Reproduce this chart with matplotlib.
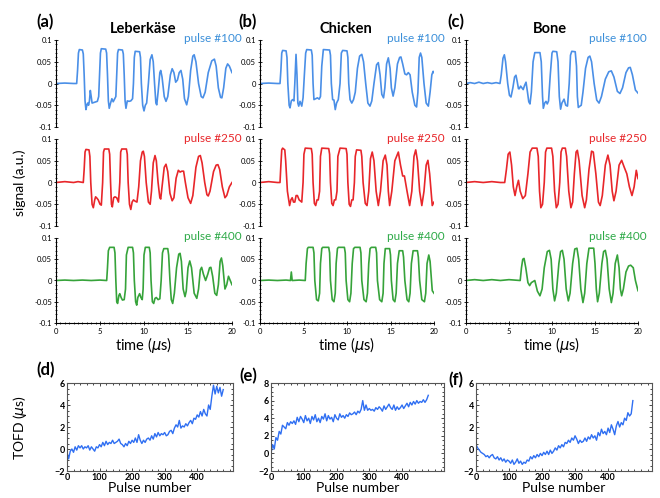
import matplotlib
matplotlib.use("Agg")
import matplotlib.pyplot as plt
from matplotlib.ticker import MultipleLocator

plt.rcParams['font.family'] = ['Lato', 'DejaVu Sans']

# ---------------- data ----------------
materials = ["Leberkäse", "Chicken", "Bone"]
pulse_labels = ["pulse #100", "pulse #250", "pulse #400"]
panel_top = ["(a)", "(b)", "(c)"]
panel_bot = ["(d)", "(e)", "(f)"]

# (time in us, signal in a.u.)
leb100 = [(0,0),(1.0,0.001),(2.0,0),(2.35,0),(2.45,0.03),(2.55,0.07),(2.65,0.078),(3.0,0.077),(3.1,0.068),(3.2,0.02),(3.3,-0.04),(3.4,-0.06),(3.5,-0.05),(3.6,-0.045),(3.7,-0.05),(3.8,-0.04),(3.9,-0.016),(4.0,-0.03),(4.1,-0.045),(4.4,-0.043),(4.7,-0.041),(4.85,-0.03),(4.95,0.02),(5.05,0.07),(5.15,0.08),(5.65,0.079),(5.75,0.07),(5.85,0.02),(5.95,-0.04),(6.05,-0.057),(6.2,-0.045),(6.35,-0.035),(6.5,-0.042),(6.65,-0.036),(6.8,-0.03),(6.9,0.02),(7.0,0.07),(7.1,0.078),(7.55,0.077),(7.65,0.068),(7.75,0.02),(7.85,-0.04),(7.95,-0.057),(8.1,-0.04),(8.3,-0.041),(8.5,-0.04),(8.7,-0.035),(8.8,0.0),(8.9,0.06),(9.0,0.074),(9.5,0.073),(9.6,0.06),(9.7,0.0),(9.85,-0.05),(10.0,-0.063),(10.15,-0.05),(10.3,-0.045),(10.5,0.0),(10.7,0.055),(10.9,0.066),(11.05,0.05),(11.2,0.0),(11.35,-0.045),(11.45,-0.049),(11.6,-0.02),(11.8,0.025),(11.9,0.03),(12.05,0.015),(12.3,-0.03),(12.5,-0.041),(12.7,-0.03),(13.0,0.02),(13.2,0.034),(13.4,0.025),(13.6,0.003),(13.8,0.008),(14.0,0.025),(14.2,0.03),(14.4,0.01),(14.6,-0.035),(14.85,-0.049),(15.05,-0.03),(15.3,0.03),(15.55,0.063),(15.7,0.066),(15.9,0.05),(16.2,0.0),(16.5,-0.03),(16.7,-0.033),(16.95,-0.02),(17.3,0.025),(17.7,0.052),(18.0,0.056),(18.2,0.04),(18.45,-0.01),(18.7,-0.032),(18.85,-0.033),(19.05,-0.01),(19.3,0.035),(19.5,0.045),(19.7,0.04),(20.0,0.025)]

leb250 = [(0,0),(1,0.002),(2,0),(2.5,0.002),(3.1,0),(3.2,0.03),(3.3,0.07),(3.4,0.076),(3.75,0.075),(3.85,0.06),(3.95,0.0),(4.1,-0.05),(4.24,-0.058),(4.4,-0.04),(4.5,-0.033),(4.65,-0.036),(4.8,-0.04),(5.0,-0.05),(5.15,-0.052),(5.3,0.0),(5.4,0.07),(5.5,0.077),(6.0,0.077),(6.1,0.065),(6.2,0.0),(6.3,-0.05),(6.4,-0.056),(6.55,-0.035),(6.7,-0.033),(6.9,-0.035),(7.1,-0.045),(7.25,0.0),(7.35,0.07),(7.47,0.077),(8.0,0.077),(8.1,0.065),(8.2,0.0),(8.35,-0.05),(8.5,-0.062),(8.65,-0.045),(8.8,-0.04),(9.0,-0.043),(9.2,-0.045),(9.4,-0.01),(9.6,0.05),(9.8,0.07),(9.92,0.072),(10.05,0.06),(10.25,0.0),(10.5,-0.045),(10.7,-0.05),(10.85,-0.02),(11.05,0.045),(11.25,0.062),(11.4,0.05),(11.6,0.0),(11.8,-0.035),(11.9,-0.038),(12.05,-0.01),(12.3,0.035),(12.5,0.042),(12.7,0.025),(12.95,-0.025),(13.2,-0.042),(13.4,-0.035),(13.65,0.01),(13.9,0.028),(14.1,0.024),(14.3,0.026),(14.5,0.026),(14.7,0.0),(15.0,-0.035),(15.3,-0.048),(15.55,-0.03),(15.9,0.035),(16.2,0.06),(16.4,0.062),(16.6,0.045),(16.9,0.0),(17.15,-0.028),(17.3,-0.031),(17.5,-0.02),(17.9,0.025),(18.2,0.04),(18.4,0.041),(18.6,0.03),(18.9,-0.01),(19.2,-0.035),(19.4,-0.03),(19.7,-0.01),(20.0,0.0)]

leb400 = [(0,0),(1,0.001),(2,0),(3,0.001),(4,0),(5,0.001),(5.76,0),(5.85,0.03),(5.95,0.07),(6.1,0.078),(6.6,0.078),(6.7,0.065),(6.8,0.0),(6.9,-0.05),(7.0,-0.054),(7.15,-0.035),(7.25,-0.031),(7.4,-0.04),(7.55,-0.046),(7.75,-0.045),(7.9,-0.02),(8.0,0.06),(8.2,0.078),(8.7,0.078),(8.8,0.065),(8.9,0.0),(9.05,-0.05),(9.17,-0.058),(9.3,-0.04),(9.5,-0.031),(9.65,-0.04),(9.8,-0.045),(9.9,-0.02),(10.0,0.06),(10.15,0.078),(10.6,0.078),(10.7,0.065),(10.8,0.0),(10.95,-0.05),(11.1,-0.054),(11.25,-0.042),(11.4,-0.04),(11.6,-0.045),(11.8,-0.043),(11.95,0.0),(12.1,0.065),(12.25,0.075),(12.7,0.075),(12.8,0.06),(12.95,0.0),(13.1,-0.045),(13.26,-0.054),(13.45,-0.03),(13.7,0.03),(13.95,0.062),(14.1,0.064),(14.25,0.045),(14.45,-0.02),(14.66,-0.038),(14.8,-0.025),(15.0,0.03),(15.2,0.046),(15.4,0.03),(15.7,-0.03),(16.0,-0.042),(16.2,-0.02),(16.4,0.025),(16.55,0.031),(16.75,0.015),(17.0,0.0),(17.25,0.015),(17.45,0.03),(17.6,0.031),(17.8,0.01),(18.05,-0.03),(18.26,-0.035),(18.45,-0.01),(18.65,0.045),(18.8,0.053),(18.95,0.035),(19.2,-0.02),(19.4,-0.01),(19.6,0.01),(19.8,0.0),(20.0,-0.01)]

chk100 = [(0,0),(1,0.001),(2,0),(2.3,0),(2.4,0.03),(2.5,0.07),(2.6,0.076),(3.0,0.075),(3.1,0.06),(3.2,0.0),(3.35,-0.05),(3.45,-0.056),(3.6,-0.04),(3.75,-0.037),(3.9,-0.04),(4.0,0.0),(4.14,0.067),(4.25,0.02),(4.35,-0.045),(4.45,-0.052),(4.6,-0.041),(4.8,-0.052),(4.95,-0.033),(5.1,0.02),(5.25,0.07),(5.37,0.078),(5.9,0.077),(6.0,0.065),(6.1,0.0),(6.2,-0.037),(6.4,-0.035),(6.6,-0.033),(6.8,-0.036),(6.95,-0.03),(7.1,0.04),(7.28,0.078),(8.0,0.077),(8.1,0.065),(8.2,0.0),(8.35,-0.037),(8.5,-0.038),(8.65,-0.06),(8.8,-0.045),(9.0,-0.037),(9.2,0.0),(9.35,0.07),(9.5,0.076),(10.0,0.075),(10.1,0.06),(10.2,0.0),(10.35,-0.037),(10.55,-0.045),(10.75,-0.037),(10.95,-0.02),(11.2,0.035),(11.45,0.063),(11.7,0.067),(11.9,0.05),(12.15,0.0),(12.4,-0.045),(12.64,-0.052),(12.85,-0.04),(13.1,0.0),(13.4,0.043),(13.6,0.048),(13.8,0.02),(14.0,-0.025),(14.2,-0.033),(14.35,-0.01),(14.55,0.045),(14.75,0.059),(14.95,0.035),(15.1,-0.01),(15.3,-0.029),(15.5,-0.01),(15.8,0.045),(16.05,0.06),(16.2,0.061),(16.4,0.045),(16.65,0.022),(16.85,0.02),(17.05,0.025),(17.25,0.02),(17.5,-0.02),(17.8,-0.05),(18.0,-0.054),(18.15,-0.02),(18.3,0.06),(18.45,0.07),(18.6,0.06),(18.85,0.0),(19.1,-0.045),(19.35,-0.052),(19.55,-0.02),(19.75,0.02),(19.9,0.028),(20.0,0.025)]

chk250 = [(0,0),(1,0.002),(2,0),(2.3,0),(2.4,0.04),(2.5,0.075),(2.6,0.079),(2.85,0.075),(2.95,0.05),(3.15,-0.02),(3.4,-0.053),(3.55,-0.04),(3.7,-0.035),(3.85,-0.045),(4.0,-0.045),(4.15,-0.03),(4.3,-0.03),(4.5,-0.04),(4.8,-0.045),(4.95,0.0),(5.05,0.065),(5.2,0.079),(5.9,0.078),(6.0,0.065),(6.1,0.0),(6.25,-0.048),(6.4,-0.053),(6.55,-0.04),(6.7,-0.04),(6.85,-0.02),(6.95,0.06),(7.1,0.079),(7.9,0.078),(8.0,0.065),(8.1,0.0),(8.25,-0.048),(8.4,-0.053),(8.55,-0.04),(8.7,-0.04),(8.85,-0.02),(8.95,0.06),(9.2,0.079),(9.9,0.078),(10.0,0.065),(10.1,0.0),(10.25,-0.05),(10.4,-0.055),(10.55,-0.04),(10.7,-0.04),(10.85,0.0),(10.95,0.06),(11.1,0.075),(11.6,0.074),(11.7,0.06),(11.85,0.0),(12.1,-0.048),(12.3,-0.053),(12.5,-0.02),(12.7,0.055),(12.9,0.07),(13.1,0.05),(13.35,-0.02),(13.6,-0.053),(13.85,-0.02),(14.15,0.05),(14.4,0.063),(14.6,0.04),(14.75,-0.02),(14.9,-0.053),(15.15,-0.02),(15.5,0.05),(15.9,0.07),(16.15,0.04),(16.4,0.015),(16.6,0.015),(16.9,-0.02),(17.2,-0.053),(17.45,-0.02),(17.7,0.06),(17.9,0.075),(18.1,0.05),(18.35,-0.02),(18.6,-0.053),(18.85,-0.02),(19.1,0.04),(19.3,0.051),(19.5,0.02),(19.8,-0.053),(20.0,-0.045)]

chk400 = [(0,0),(1,0.001),(2,0),(3,0.001),(3.5,0),(3.6,0.02),(3.7,0),(4.5,0.001),(5.2,0),(5.3,0.04),(5.45,0.075),(5.55,0.078),(6.1,0.078),(6.2,0.065),(6.3,0.0),(6.5,-0.045),(6.7,-0.048),(6.85,-0.03),(6.95,0.04),(7.1,0.075),(7.2,0.078),(7.9,0.078),(8.0,0.065),(8.1,0.0),(8.3,-0.045),(8.5,-0.05),(8.65,-0.03),(8.75,0.04),(8.9,0.075),(9.0,0.078),(9.7,0.078),(9.8,0.065),(9.9,0.0),(10.1,-0.045),(10.3,-0.05),(10.45,-0.03),(10.6,0.04),(10.75,0.075),(10.9,0.078),(11.5,0.078),(11.6,0.065),(11.7,0.0),(11.95,-0.045),(12.2,-0.05),(12.35,-0.03),(12.5,0.04),(12.65,0.075),(12.8,0.078),(13.3,0.078),(13.4,0.065),(13.5,0.0),(13.75,-0.045),(14.0,-0.05),(14.15,-0.03),(14.25,0.04),(14.4,0.075),(14.9,0.075),(15.0,0.06),(15.1,0.0),(15.3,-0.045),(15.5,-0.05),(15.65,-0.03),(15.8,0.04),(16.0,0.07),(16.4,0.07),(16.5,0.055),(16.65,0.0),(16.9,-0.045),(17.1,-0.05),(17.25,-0.03),(17.4,0.04),(17.6,0.07),(18.1,0.07),(18.2,0.055),(18.35,0.0),(18.6,-0.045),(18.9,-0.05),(19.05,-0.03),(19.2,0.04),(19.4,0.06),(19.55,0.045),(19.8,-0.024),(20.0,-0.03)]

bone100 = [(0,0),(0.5,0.002),(1,0.0),(1.5,0.003),(2,0.0),(2.5,0.002),(3,0.0),(3.5,0.002),(3.95,0),(4.1,0.02),(4.3,0.058),(4.46,0.066),(4.6,0.05),(4.85,0.0),(5.05,-0.027),(5.23,-0.031),(5.45,-0.01),(5.65,0.015),(5.81,0.019),(5.95,0.005),(6.1,-0.012),(6.2,-0.012),(6.35,-0.006),(6.5,-0.01),(6.65,-0.014),(6.8,-0.005),(6.98,0.003),(7.15,-0.02),(7.3,-0.042),(7.44,-0.047),(7.6,-0.02),(7.8,0.05),(8.0,0.071),(8.6,0.071),(8.75,0.05),(8.9,-0.03),(8.99,-0.057),(9.15,-0.045),(9.3,-0.041),(9.45,-0.047),(9.6,-0.04),(9.8,0.02),(10.0,0.07),(10.1,0.074),(10.55,0.073),(10.7,0.05),(10.85,-0.03),(11.0,-0.059),(11.15,-0.045),(11.4,-0.036),(11.6,-0.05),(11.8,-0.052),(12.0,0.0),(12.15,0.065),(12.3,0.074),(12.7,0.073),(12.85,0.04),(12.95,-0.03),(13.06,-0.055),(13.25,-0.052),(13.4,-0.05),(13.6,-0.02),(13.9,0.035),(14.2,0.06),(14.4,0.063),(14.6,0.05),(14.9,0.0),(15.2,-0.038),(15.47,-0.045),(15.75,-0.03),(16.2,0.01),(16.6,0.027),(16.9,0.029),(17.2,0.015),(17.6,-0.018),(17.9,-0.023),(18.2,-0.01),(18.6,0.025),(18.9,0.036),(19.1,0.037),(19.35,0.02),(19.7,-0.015),(20.0,-0.022)]

bone250 = [(0,0),(1,0.002),(2,0),(3,0.002),(4,0),(4.5,0),(4.7,0.03),(4.9,0.065),(5.1,0.07),(5.3,0.04),(5.5,-0.01),(5.7,-0.03),(5.9,-0.01),(6.1,0.005),(6.3,-0.02),(6.6,-0.037),(6.9,-0.03),(7.2,0.02),(7.45,0.07),(7.7,0.079),(8.25,0.079),(8.4,0.06),(8.55,-0.02),(8.7,-0.058),(8.9,-0.05),(9.1,0.0),(9.25,0.07),(9.4,0.079),(9.95,0.079),(10.1,0.06),(10.3,-0.02),(10.5,-0.058),(10.7,-0.05),(10.9,0.0),(11.05,0.07),(11.2,0.079),(11.55,0.079),(11.7,0.06),(11.95,-0.02),(12.2,-0.058),(12.4,-0.045),(12.6,0.02),(12.8,0.07),(12.95,0.074),(13.15,0.05),(13.5,-0.03),(13.8,-0.058),(14.0,-0.04),(14.3,0.03),(14.6,0.072),(14.8,0.07),(15.1,0.02),(15.4,-0.045),(15.6,-0.053),(15.85,-0.03),(16.2,0.04),(16.5,0.063),(16.75,0.04),(17.0,-0.02),(17.2,-0.042),(17.45,-0.02),(17.8,0.04),(18.1,0.051),(18.4,0.035),(18.7,0.02),(19.0,-0.01),(19.3,-0.03),(19.55,-0.01),(19.8,0.028),(20.0,0.009)]

bone400 = [(0,0),(1,0.002),(2,0),(3,0.002),(4,0),(5,0.002),(6.3,0),(6.45,0.03),(6.6,0.05),(6.75,0.052),(6.95,0.03),(7.2,-0.005),(7.4,-0.012),(7.6,-0.005),(8.0,0.0),(8.3,-0.025),(8.6,-0.036),(8.85,-0.02),(9.1,0.03),(9.45,0.068),(9.7,0.071),(9.9,0.05),(10.1,-0.02),(10.3,-0.048),(10.5,-0.03),(10.8,0.04),(11.0,0.068),(11.2,0.071),(11.4,0.05),(11.65,-0.02),(11.9,-0.048),(12.1,-0.03),(12.4,0.04),(12.65,0.074),(12.9,0.076),(13.1,0.05),(13.35,-0.02),(13.6,-0.052),(13.8,-0.03),(14.05,0.04),(14.3,0.076),(14.85,0.076),(15.0,0.04),(15.15,-0.02),(15.3,-0.05),(15.5,-0.03),(15.8,0.04),(16.0,0.068),(16.2,0.071),(16.4,0.05),(16.65,-0.02),(16.9,-0.052),(17.1,-0.03),(17.35,0.04),(17.6,0.06),(17.8,0.03),(17.95,-0.02),(18.1,-0.036),(18.3,-0.02),(18.6,0.02),(18.9,0.034),(19.15,0.036),(19.45,0.03),(19.7,0.0),(20.0,-0.024)]

pulse_number = list(range(0, 485, 5))
tofd_leb = [-0.3, -0.9, -0.2, 0.0, -0.3, 0.2, -0.1, 0.3, 0.1, 0.3, 0.0, 0.2, 0.1, 0.3, -0.1, 0.2, 0.0, -0.2, 0.2, 0.1,
            0.4, 0.2, 0.6, 0.3, 0.7, 0.4, 0.6, 0.5, 0.8, 0.5, 0.6, 0.7, 0.9, 0.5, 0.4, 0.2, 0.5, 0.3, 0.7, 0.5,
            0.8, 0.6, 1.0, 0.6, 1.3, 0.8, 0.5, 0.8, 0.6, 0.9, 1.0, 0.8, 1.2, 0.9, 1.4, 1.1, 1.5, 1.2, 1.4, 1.3,
            1.5, 1.2, 1.3, 1.6, 1.7, 1.4, 1.9, 2.2, 2.0, 2.6, 1.9, 2.1, 2.0, 2.3, 2.1, 2.4, 2.6, 2.3, 2.8, 2.7,
            3.1, 2.9, 3.4, 3.0, 3.6, 3.2, 3.0, 4.0, 3.6, 4.8, 5.8, 5.0, 5.7, 5.1, 5.6, 4.8, 5.4]
tofd_chk = [0.0, 1.0, 0.5, 1.8, 1.5, 2.5, 2.2, 3.2, 3.0, 2.8, 3.5, 3.2, 3.6, 3.4, 3.7, 3.3, 4.1, 3.6, 4.2, 3.9,
            3.5, 4.3, 3.7, 4.0, 3.4, 4.2, 3.8, 4.4, 3.6, 4.0, 3.5, 4.2, 3.9, 4.5, 3.7, 4.3, 3.9, 4.1, 3.6, 4.4,
            4.0, 3.8, 4.5, 4.1, 4.3, 4.0, 4.4, 4.2, 4.6, 4.4, 4.5, 4.7, 4.4, 4.8, 4.6, 5.0, 6.0, 4.9, 5.5, 4.9,
            5.1, 4.9, 5.0, 4.8, 5.2, 5.0, 5.3, 5.1, 4.8, 5.4, 5.0, 5.3, 5.6, 5.2, 5.0, 5.5, 4.9, 5.3, 5.0, 5.2,
            5.5, 5.1, 5.4, 5.7, 5.3, 5.8, 5.5, 5.9, 5.6, 6.0, 5.7, 5.9, 5.8, 6.1, 5.8, 6.1, 6.6]
tofd_bone = [0.4, 0.1, -0.1, -0.3, -0.4, -0.5, -0.7, -0.6, -0.8, -0.6, -0.5, -0.8, -0.9, -0.7, -1.0, -0.8, -1.1, -0.9, -1.2, -1.0,
             -1.1, -1.3, -1.0, -1.4, -1.2, -0.9, -1.3, -1.1, -1.4, -1.2, -1.3, -1.0, -1.1, -0.7, -0.9, -0.6, -0.8, -0.5, -0.7, -0.4,
             -0.6, -0.3, -0.5, -0.2, -0.5, -0.1, -0.4, -0.2, 0.1, -0.1, 0.3, 0.1, 0.4, 0.2, 0.6, 0.5, 0.8, 0.6, 1.0, 0.8,
             1.2, 0.9, 0.5, 0.8, 0.6, 0.7, 1.0, 0.7, 1.1, 0.9, 1.3, 1.0, 1.2, 0.8, 1.5, 1.2, 1.8, 1.4, 1.6, 1.3,
             1.9, 1.5, 2.2, 1.8, 1.3, 2.1, 2.5, 2.0, 2.4, 2.2, 2.8, 2.6, 3.3, 3.0, 3.2, 4.4]

waves = [[leb100, leb250, leb400], [chk100, chk250, chk400], [bone100, bone250, bone400]]
tofd = [tofd_leb, tofd_chk, tofd_bone]

# ---------------- styling / layout ----------------
W, H = 660, 498
fig = plt.figure(figsize=(W / 100, H / 100), dpi=100)

def ax_px(l, t, r, b):
    return fig.add_axes([l / W, 1 - b / H, (r - l) / W, (b - t) / H])

line_cols = ['#4a8fe7', '#e8262a', '#36a33a']
text_cols = ['#3b8fd9', '#e8262a', '#2eaa48']
col_x = [(56, 232), (260, 434), (466, 638)]
row_y = [(40, 127), (139, 226), (238, 323)]
label_right = [242, 445, 647]
title_x = [143, 346, 550]

for c in range(3):
    for r in range(3):
        l, rr = col_x[c]
        t, b = row_y[r]
        ax = ax_px(l, t, rr, b)
        tt = [p[0] for p in waves[c][r]]
        vv = [p[1] for p in waves[c][r]]
        ax.plot(tt, vv, color=line_cols[r], lw=1.2, solid_joinstyle='round')
        ax.set_xlim(0, 20)
        ax.set_ylim(-0.1, 0.1)
        ax.patch.set_alpha(0)
        for s in ['top', 'right']:
            ax.spines[s].set_visible(False)
        ax.spines['left'].set_linewidth(0.8)
        ax.set_yticks([-0.1, -0.05, 0, 0.05, 0.1])
        ax.set_yticklabels(['-0.1', '-0.05', '0', '0.05', '0.1'])
        ax.yaxis.set_minor_locator(MultipleLocator(0.01))
        ax.tick_params(axis='y', which='major', labelsize=5.5, length=2.5, width=0.6, direction='inout', pad=1.5)
        ax.tick_params(axis='y', which='minor', length=1.5, width=0.5, direction='inout')
        if r < 2:
            ax.spines['bottom'].set_visible(False)
            ax.set_xticks([])
        else:
            ax.spines['bottom'].set_linewidth(0.8)
            ax.set_xticks([0, 5, 10, 15, 20])
            ax.xaxis.set_minor_locator(MultipleLocator(0.5))
            ax.tick_params(axis='x', which='major', labelsize=5.5, length=2.5, width=0.6, direction='inout', pad=2)
            ax.tick_params(axis='x', which='minor', length=1.5, width=0.5, direction='inout')
            ax.set_xlabel('time ($\\mu$s)', fontsize=10.5, labelpad=0)
        fig.text(label_right[c] / W, 1 - (t - 1) / H, pulse_labels[r], color=text_cols[r],
                 ha='right', va='center', fontsize=8.5)
    fig.text(title_x[c] / W, 1 - 29 / H, materials[c], ha='center', va='center',
             fontsize=10.5, fontweight='bold')

top_lab_x = [45, 248, 456]
for c in range(3):
    fig.text(top_lab_x[c] / W, 1 - 22 / H, panel_top[c], ha='center', va='center',
             fontsize=12, fontweight='bold')

fig.text(20 / W, 1 - 183 / H, 'signal (a.u.)', rotation=90, ha='center', va='center', fontsize=10)

# bottom panels
bot_x = [(67, 233, 510), (271, 444, 528), (476, 652, 533)]
bot_ylim = [(-2, 6), (-2, 8), (-2, 6)]
bot_yticks = [[-2, 0, 2, 4, 6], [-2, 0, 2, 4, 6, 8], [-2, 0, 2, 4, 6]]
bot_lab_x = [46, 248, 456]
bot_lab_y = [370, 376, 380]
for c in range(3):
    l, rr, xmax = bot_x[c]
    ax = ax_px(l, 383, rr, 471)
    ax.plot(pulse_number[:len(tofd[c])], tofd[c], color='#2f6ff2', lw=1.0)
    ax.set_xlim(0, xmax)
    ax.set_ylim(*bot_ylim[c])
    ax.set_xticks([0, 100, 200, 300, 400])
    ax.set_yticks(bot_yticks[c])
    ax.xaxis.set_minor_locator(MultipleLocator(20))
    ax.yaxis.set_minor_locator(MultipleLocator(0.5))
    ax.tick_params(which='both', direction='in', top=True, right=True, width=0.5)
    ax.tick_params(which='major', length=2.5, labelsize=6.5, pad=1.5)
    ax.tick_params(which='minor', length=1.5)
    for lab in ax.get_xticklabels() + ax.get_yticklabels():
        lab.set_fontweight('bold')
    for s in ax.spines.values():
        s.set_linewidth(0.8)
        s.set_color('#555555')
    ax.set_xlabel('Pulse number', fontsize=10, labelpad=0)
    fig.text(bot_lab_x[c] / W, 1 - bot_lab_y[c] / H, panel_bot[c], ha='center', va='center',
             fontsize=12, fontweight='bold')

fig.text(20 / W, 1 - 428 / H, 'TOFD ($\\mu$s)', rotation=90, ha='center', va='center', fontsize=10)

fig.savefig('out.png', dpi=100)
